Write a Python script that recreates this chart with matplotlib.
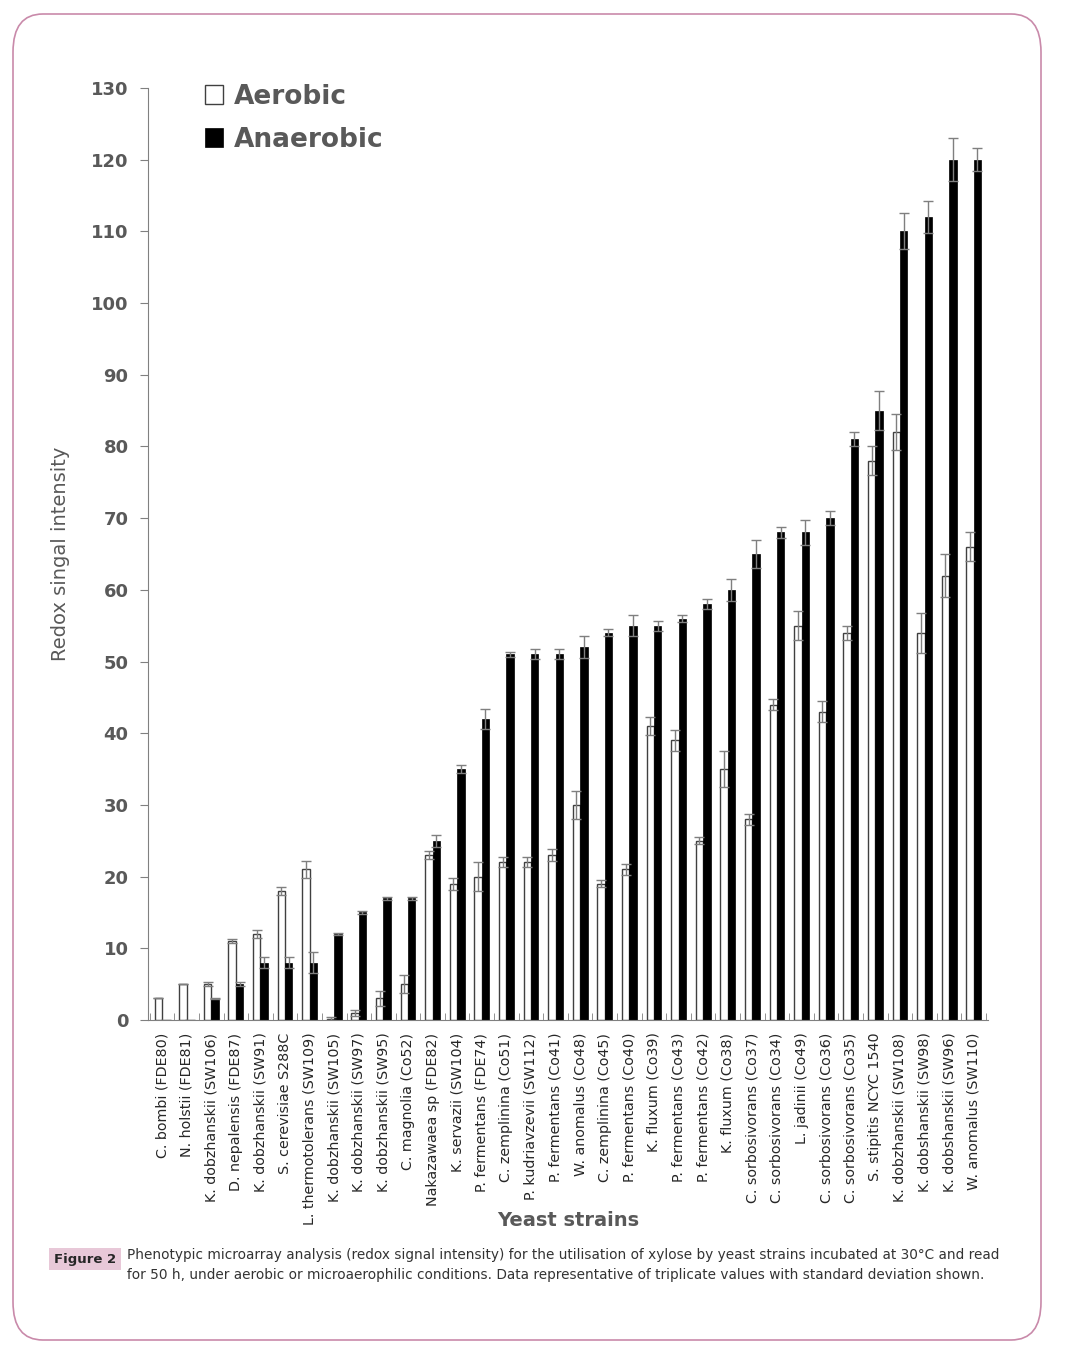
import numpy as np
import matplotlib.pyplot as plt
from matplotlib.patches import FancyBboxPatch

strains = ["C. bombi (FDE80)", "N. holstii (FDE81)", "K. dobzhanskii (SW106)",
           "D. nepalensis (FDE87)", "K. dobzhanskii (SW91)", "S. cerevisiae S288C",
           "L. thermotolerans (SW109)", "K. dobzhanskii (SW105)", "K. dobzhanskii (SW97)",
           "K. dobzhanskii (SW95)", "C. magnolia (Co52)", "Nakazawaea sp (FDE82)",
           "K. servazii (SW104)", "P. fermentans (FDE74)", "C. zemplinina (Co51)",
           "P. kudriavzevii (SW112)", "P. fermentans (Co41)", "W. anomalus (Co48)",
           "C. zemplinina (Co45)", "P. fermentans (Co40)", "K. fluxum (Co39)",
           "P. fermentans (Co43)", "P. fermentans (Co42)", "K. fluxum (Co38)",
           "C. sorbosivorans (Co37)", "C. sorbosivorans (Co34)", "L. jadinii (Co49)",
           "C. sorbosivorans (Co36)", "C. sorbosivorans (Co35)", "S. stipitis NCYC 1540",
           "K. dobzhanskii (SW108)", "K. dobshanskii (SW98)", "K. dobshanskii (SW96)",
           "W. anomalus (SW110)"]
aerobic = [3, 5, 5, 11, 12, 18, 21, 0.2, 1, 3, 5, 23, 19, 20, 22, 22, 23, 30,
           19, 21, 41, 39, 25, 35, 28, 44, 55, 43, 54, 78, 82, 54, 62, 66]
aerobic_err = [0, 0, 0.3, 0.3, 0.5, 0.6, 1.2, 0.2, 0.4, 1.0, 1.3, 0.6, 0.8, 2.0,
               0.7, 0.7, 0.8, 2.0, 0.5, 0.8, 1.2, 1.5, 0.5, 2.5, 0.8, 0.8, 2.0,
               1.5, 1.0, 2.0, 2.5, 2.8, 3.0, 2.0]
anaerobic = [0, 0, 3, 5, 8, 8, 8, 12, 15, 17, 17, 25, 35, 42, 51, 51, 51, 52,
             54, 55, 55, 56, 58, 60, 65, 68, 68, 70, 81, 85, 110, 112, 120, 120]
anaerobic_err = [0, 0, 0.1, 0.3, 0.8, 0.8, 1.5, 0.1, 0.2, 0.2, 0.2, 0.8, 0.5, 1.4,
                 0.3, 0.7, 0.7, 1.5, 0.5, 1.5, 0.7, 0.5, 0.7, 1.5, 2.0, 0.7, 1.7,
                 1.0, 1.0, 2.7, 2.5, 2.2, 3.0, 1.6]

grey = "#595959"
x = np.arange(len(strains))
w = 0.3

fig = plt.figure(figsize=(10.65, 13.58), dpi=100)
fig.patches.append(FancyBboxPatch((13 / 1065, 18 / 1358), 1028 / 1065, 1326 / 1358,
                                  boxstyle="round,pad=0,rounding_size=0.028",
                                  transform=fig.transFigure, fill=False,
                                  edgecolor="#c98aaa", linewidth=1.2))
ax = fig.add_axes([148 / 1065, 1 - 1020 / 1358, 840 / 1065, 932 / 1358])

ekw = dict(ecolor="#7f7f7f", elinewidth=1, capsize=3.5, capthick=1)
ax.bar(x - w / 2, aerobic, w, color="white", edgecolor="#404040", linewidth=1,
       yerr=aerobic_err, error_kw=ekw, label="Aerobic")
ax.bar(x + w / 2, anaerobic, w, color="black", edgecolor="black", linewidth=0.5,
       yerr=anaerobic_err, error_kw=ekw, label="Anaerobic")

ax.set_xlim(-0.57, 33.58)
ax.set_ylim(0, 130)
ax.set_yticks(range(0, 131, 10))
ax.set_xticks(x)
ax.set_xticklabels(strains, rotation=90, fontsize=10.3, color="#262626")
ax.set_xticks(np.arange(-0.5, 34, 1), minor=True)
ax.tick_params(axis="x", which="major", length=0, pad=9)
ax.tick_params(axis="x", which="minor", length=5, direction="in", color="#808080")
ax.tick_params(axis="y", length=6, color="#808080", labelcolor=grey, labelsize=13, pad=8)
for lab in ax.get_yticklabels():
    lab.set_fontweight("bold")
for s in ["top", "right"]:
    ax.spines[s].set_visible(False)
for s in ["left", "bottom"]:
    ax.spines[s].set_color("#808080")

ax.set_ylabel("Redox singal intensity", fontsize=14, color=grey)
ax.yaxis.set_label_coords(-0.093, 0.5)
ax.set_xlabel("Yeast strains", fontsize=14, color=grey, fontweight="bold")
ax.xaxis.set_label_coords(0.5, -0.2146)
ax.xaxis.label.set_va("center")

leg = ax.legend(loc="upper left", bbox_to_anchor=(0.039, 1.03), frameon=False,
                prop={"size": 19, "weight": "bold"}, handlelength=0.7, handleheight=0.7,
                handletextpad=0.4, labelspacing=0.65, labelcolor=grey)

fig.text(54 / 1065, 1 - 1259 / 1358, "Figure 2", fontsize=9.5, fontweight="bold",
         color="#262626", va="center",
         bbox=dict(boxstyle="square,pad=0.35", facecolor="#e8c8d8", edgecolor="none"))
fig.text(127 / 1065, 1 - 1255 / 1358,
         "Phenotypic microarray analysis (redox signal intensity) for the utilisation of xylose by yeast strains incubated at 30°C and read",
         fontsize=9.8, color="#333333", va="center")
fig.text(127 / 1065, 1 - 1275 / 1358,
         "for 50 h, under aerobic or microaerophilic conditions. Data representative of triplicate values with standard deviation shown.",
         fontsize=9.8, color="#333333", va="center")

fig.savefig("out.png", dpi=100)
